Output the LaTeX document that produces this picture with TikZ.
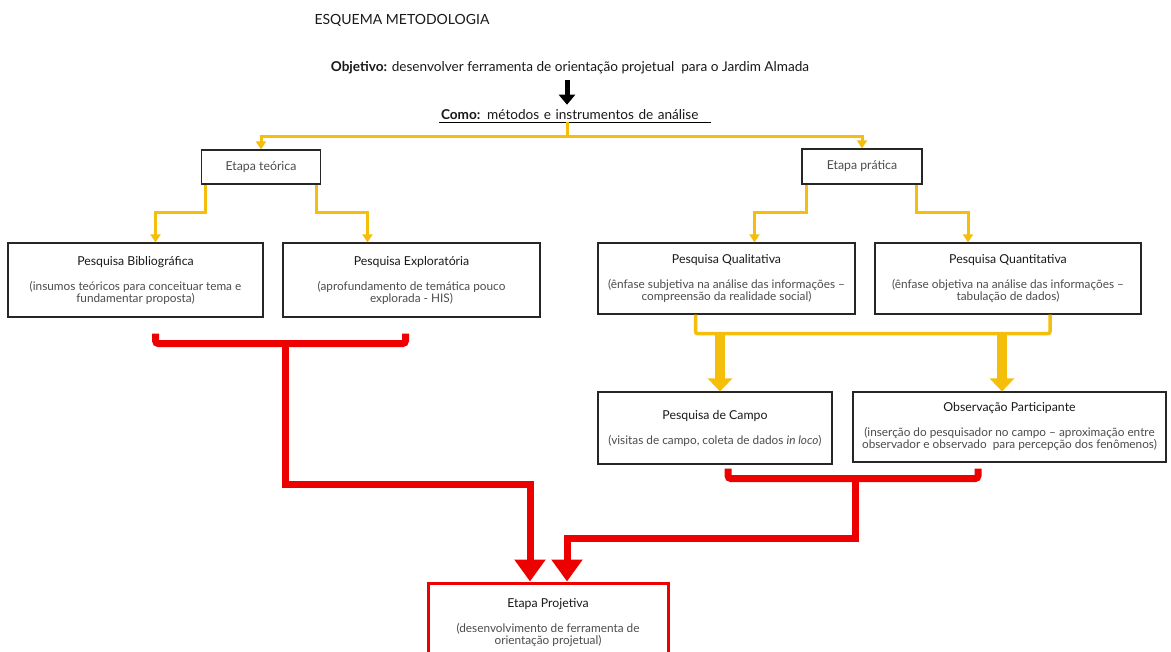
\documentclass[tikz,border=0pt]{standalone}
\usepackage{fontspec}
\setmainfont{Lato}
\usetikzlibrary{arrows.meta}
\definecolor{amarelo}{RGB}{245,190,10}
\definecolor{vermelho}{RGB}{236,0,0}
\definecolor{texto}{RGB}{25,25,25}
\newcommand{\titulo}{\fontsize{12.3}{13}\selectfont\color{texto}}
\tikzset{
  topo/.style={font=\fontsize{13.6}{15}\selectfont, text=texto, inner sep=2pt},
  caixa/.style={draw=black!85, line width=1.2pt, fill=white, align=center,
    font=\fontsize{11.8}{12}\selectfont, text=black!70},
  etapa/.style={caixa, font=\titulo},
  amarela/.style={draw=amarelo, line width=3pt},
  seta amarela/.style={amarela, -{Triangle[width=10pt,length=8pt]}},
  seta grossa/.style={draw=amarelo, line width=10pt, -{Triangle[width=24pt,length=13pt]}},
  vermelha/.style={draw=vermelho, line width=7pt, rounded corners=3pt},
  seta vermelha/.style={draw=vermelho, line width=7pt, -{Triangle[width=30pt,length=22pt]}},
  seta preta/.style={draw=black, line width=5pt, -{Triangle[width=16pt,length=10pt]}}
}
\begin{document}
\begin{tikzpicture}[x=1pt,y=-1pt]
\useasboundingbox (0,0) rectangle (1171,652);

% topo
\node[anchor=west, font=\fontsize{14}{16}\selectfont, text=texto] (esquema) at (311,20) {ESQUEMA METODOLOGIA};
\node[topo] (objetivo) at (570,68) {\textbf{Objetivo:} desenvolver ferramenta de orientação projetual\ \ para o Jardim Almada};
\node[topo, text width=268pt, align=left] (como) at (575,115) {\textbf{Como:} métodos e instrumentos de análise};
\draw[line width=0.9pt] (como.south west) -- (como.south east);
\draw[seta preta] ([xshift=-3pt,yshift=-4pt]objetivo.south) -- ([xshift=-8pt,yshift=3pt]como.north);

% etapas
\node[etapa, minimum width=119pt, minimum height=34pt] (teorica) at (261,167) {Etapa teórica};
\node[etapa, minimum width=120pt, minimum height=35pt] (pratica) at (862,166.5) {Etapa prática};

\node[caixa, minimum width=255pt, minimum height=74pt] (bibliografica) at (135.5,280)
  {{\titulo Pesquisa Bibliográfica}\\[13pt](insumos teóricos para conceituar tema e\\fundamentar proposta)};
\node[caixa, minimum width=257pt, minimum height=74pt] (exploratoria) at (411.5,280)
  {{\titulo Pesquisa Exploratória}\\[13pt](aprofundamento de temática pouco\\explorada - HIS)};
\node[caixa, minimum width=257pt, minimum height=71pt] (qualitativa) at (726.5,278.5)
  {{\titulo Pesquisa Qualitativa}\\[13pt](ênfase subjetiva na análise das informações --\\compreensão da realidade social)};
\node[caixa, minimum width=266pt, minimum height=71pt] (quantitativa) at (1008,278.5)
  {{\titulo Pesquisa Quantitativa}\\[13pt](ênfase objetiva na análise das informações --\\tabulação de dados)};
\node[caixa, minimum width=234pt, minimum height=72pt] (campo) at (715,428)
  {{\titulo Pesquisa de Campo}\\[13pt](visitas de campo, coleta de dados \textit{in loco})};
\node[caixa, minimum width=313pt, minimum height=70pt] (observacao) at (1009.5,427)
  {{\titulo Observação Participante}\\[13pt](inserção do pesquisador no campo -- aproximação entre\\observador e observado\ \ para percepção dos fenômenos)};
\node[caixa, draw=vermelho, line width=3pt, minimum width=240pt, minimum height=80pt] (projetiva) at (548,623)
  {{\titulo Etapa Projetiva}\\[13pt](desenvolvimento de ferramenta de\\orientação projetual)};

% conectores amarelos
\draw[amarela] ([xshift=-8pt]como.south) -- ++(0,14) coordinate (bifurca);
\draw[seta amarela] (bifurca) -| (teorica.north);
\draw[seta amarela] (bifurca) -| (pratica.north);
\draw[seta amarela] ([xshift=5pt]teorica.south west) -- ++(0,28) -| ([xshift=20pt]bibliografica.north);
\draw[seta amarela] ([xshift=-5pt]teorica.south east) -- ++(0,28) -| ([xshift=-44pt]exploratoria.north);
\draw[seta amarela] ([xshift=5pt]pratica.south west) -- ++(0,28) -| ([xshift=28pt]qualitativa.north);
\draw[seta amarela] ([xshift=-6pt]pratica.south east) -- ++(0,28) -| ([xshift=-40pt]quantitativa.north);
\draw[amarela, line width=3.5pt, rounded corners=2pt] ([xshift=-31pt]qualitativa.south) -- ++(0,19) -| ([xshift=42pt]quantitativa.south);
\draw[seta grossa] ([xshift=5pt,yshift=57pt]campo.north) -- (campo.north -| 720,0);
\draw[seta grossa] ([xshift=-7.5pt,yshift=57pt]observacao.north) -- (observacao.north -| 1002,0);

% conectores vermelhos
\draw[vermelha] ([xshift=20pt,yshift=-16pt]bibliografica.south) -- ++(0,10) coordinate (juncao1) -| ([xshift=-6pt,yshift=-16pt]exploratoria.south);
\draw[seta vermelha] (juncao1 -| 285,0) -- ++(0,141) -| ([xshift=-18pt]projetiva.north);
\draw[vermelha] ([xshift=13pt,yshift=-4pt]campo.south) -- ++(0,10) coordinate (juncao2) -| ([xshift=-31.5pt,yshift=-6pt]observacao.south);
\draw[seta vermelha] (juncao2 -| 855,0) -- ++(0,60) -| ([xshift=19pt]projetiva.north);
\end{tikzpicture}
\end{document}
